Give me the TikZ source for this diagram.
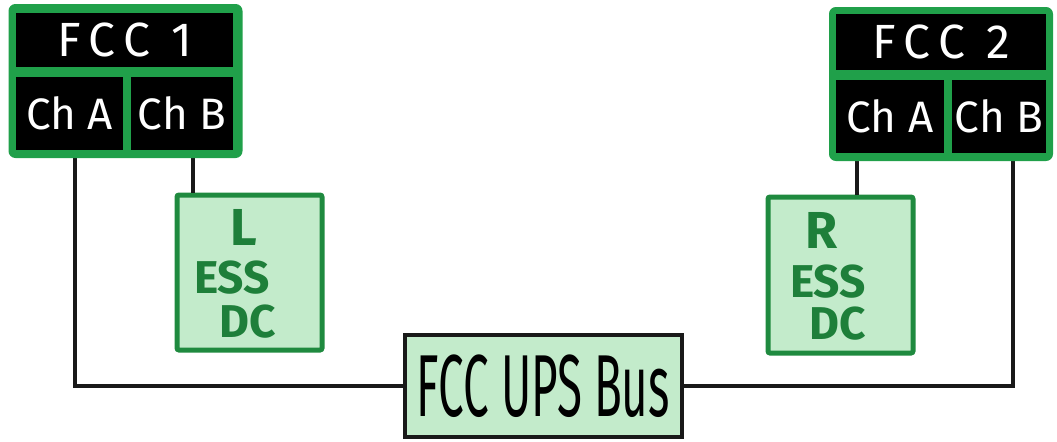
\documentclass[tikz,border=0pt]{standalone}
\usepackage{fontspec}
\setmainfont{Fira Sans}
\definecolor{fccgreen}{HTML}{20A04A}
\definecolor{essgreen}{HTML}{1F8A3F}
\definecolor{essfill}{HTML}{C3EBCB}
\definecolor{esstext}{HTML}{1E7F3A}
\begin{document}
\begin{tikzpicture}[x=0.5pt,y=-0.5pt,
  frame/.style={draw=fccgreen,fill=fccgreen,line width=1pt,rounded corners=3pt,inner sep=0pt},
  cell/.style={fill=black,text=white,inner sep=0pt,font=\fontsize{22}{24}\selectfont},
  title/.style={cell,font=\fontsize{24}{26}\selectfont},
  essbox/.style={draw=essgreen,fill=essfill,line width=2.5pt,inner sep=0pt,rounded corners=1pt},
  esslabel/.style={text=esstext,inner sep=0pt,font=\fontsize{23}{25}\selectfont\bfseries},
  busbox/.style={draw=black!90,fill=essfill,line width=2pt,inner sep=0pt,font=\fontsize{44}{46}\selectfont},
  wire/.style={draw=black!90,line width=2pt}]
\useasboundingbox (0,0) rectangle (1057,441);
% wire anchors
\coordinate (a1) at (75,150);
\coordinate (b1) at (193,150);
\coordinate (a2) at (857,152);
\coordinate (b2) at (1013,152);
% boxes
\node[essbox,minimum width=72.5pt,minimum height=77.5pt] (less) at (249.5,272.5) {};
\node[essbox,minimum width=72.5pt,minimum height=78pt] (ress) at (840.5,275) {};
\node[busbox,minimum width=138.5pt,minimum height=51pt] (bus) at (543.5,386) {\scalebox{0.52}[1]{FCC UPS Bus}};
% wires
\draw[wire] (a1) |- (bus.west);
\draw[wire] (b1) -- (b1 |- less.north);
\draw[wire] (a2) -- (a2 |- ress.north);
\draw[wire] (b2) |- (bus.east);
% FCC 1
\node[frame,minimum width=116pt,minimum height=76pt] (fcc1) at (125.5,81) {};
\node[title,minimum width=108.5pt,minimum height=27pt] (t1) at (124.5,40) {F\,C\,C\,\ 1};
\node[cell,minimum width=53.5pt,minimum height=36.5pt] (ca1) at (69.5,113.5) {Ch A};
\node[cell,minimum width=51pt,minimum height=36.5pt] (cb1) at (182,113.5) {Ch B};
% FCC 2
\node[frame,minimum width=111pt,minimum height=76pt] (fcc2) at (941,84) {};
\node[title,minimum width=105pt,minimum height=28pt] (t2) at (941,42) {F\,C\,C\,\ 2};
\node[cell,minimum width=54pt,minimum height=36.5pt] (ca2) at (890,116.5) {Ch A};
\node[cell,minimum width=47pt,minimum height=36.5pt] (cb2) at (999,116.5) {Ch B};
% ESS labels
\node[esslabel,font=\fontsize{26}{28}\selectfont\bfseries] (l1) at (244,227) {L};
\node[esslabel] (l2) at (232,278) {ESS};
\node[esslabel] (l3) at (248,322) {DC};
\node[esslabel,font=\fontsize{26}{28}\selectfont\bfseries] (r1) at (822,230) {R};
\node[esslabel] (r2) at (828,282) {ESS};
\node[esslabel] (r3) at (838,324) {DC};
\end{tikzpicture}
\end{document}
